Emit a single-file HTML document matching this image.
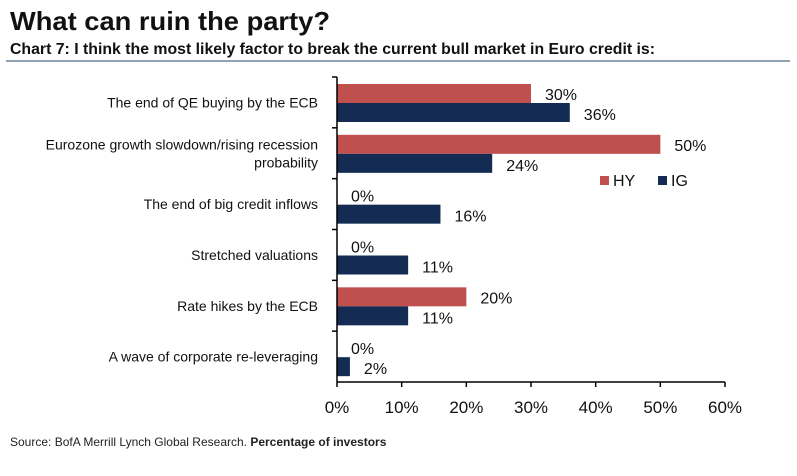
<!DOCTYPE html>
<html><head><meta charset="utf-8"><style>
body{margin:0;background:#fff;width:797px;height:471px;overflow:hidden;font-family:"Liberation Sans Narrow","Liberation Sans",sans-serif}
svg text{font-family:"Liberation Sans Narrow","Liberation Sans",sans-serif}
</style></head><body>
<svg width="797" height="471">
<text x="10" y="30" font-size="26" font-weight="bold" fill="#111" textLength="320" lengthAdjust="spacingAndGlyphs" style="font-family:'Liberation Sans',sans-serif">What can ruin the party?</text>
<text x="10" y="54" font-size="16" font-weight="bold" fill="#111" textLength="645" lengthAdjust="spacingAndGlyphs">Chart 7: I think the most likely factor to break the current bull market in Euro credit is:</text>
<line x1="6" y1="61" x2="790" y2="61" stroke="#6d8099" stroke-width="1.5"/>
<g id="plot"></g>
<rect x="600" y="176" width="9" height="9" fill="#c0504d"/>
<text x="613" y="186" font-size="16" fill="#111">HY</text>
<rect x="658" y="176" width="9" height="9" fill="#142c54"/>
<text x="671" y="186" font-size="16" fill="#111">IG</text>
<text x="10" y="446" font-size="12" fill="#222">Source: BofA Merrill Lynch Global Research. <tspan font-weight="bold">Percentage of investors</tspan></text>
</svg>
<script>
const categories=[["The end of QE buying by the ECB"],["Eurozone growth slowdown/rising recession","probability"],["The end of big credit inflows"],["Stretched valuations"],["Rate hikes by the ECB"],["A wave of corporate re-leveraging"]];
const hyValues=[30,50,0,0,20,0];
const igValues=[36,24,16,11,11,2];
const tickValues=[0,10,20,30,40,50,60];
const NS="http://www.w3.org/2000/svg";
const g=document.getElementById('plot');
const x0=337,x1=725,y0=77,y1=382,rowH=(y1-y0)/categories.length;
function xs(v){return x0+(x1-x0)*v/60;}
function mk(t,a){const e=document.createElementNS(NS,t);for(const k in a)e.setAttribute(k,a[k]);g.appendChild(e);return e;}
categories.forEach((c,i)=>{
 const top=y0+i*rowH;
 const hy=mk('rect',{x:x0,y:top+7,width:xs(hyValues[i])-x0,height:19,fill:'#c0504d'});
 
 
 const ig=mk('rect',{x:x0,y:top+26,width:xs(igValues[i])-x0,height:19,fill:'#142c54'});
 
 
 const th=mk('text',{x:xs(hyValues[i])+14,y:top+23,'font-size':16,fill:'#111'});th.textContent=hyValues[i]+'%';
 
 
 const ti=mk('text',{x:xs(igValues[i])+14,y:top+43,'font-size':16,fill:'#111'});ti.textContent=igValues[i]+'%';
 
 
 const lines=c, cy=top+rowH/2+5;
 lines.forEach((l,j)=>{
  const t=mk('text',{x:318,y:cy+(j-(lines.length-1)/2)*18,'font-size':14,'text-anchor':'end',fill:'#111'});t.textContent=l;
  
  
 });
 const tk=mk('line',{x1:x0-5,x2:x0,y1:top,y2:top,stroke:'#000','stroke-width':1.5});
 
 
});
const ya=mk('line',{x1:x0,x2:x0,y1:y0,y2:y1,stroke:'#000','stroke-width':1.5});


const xa=mk('line',{x1:x0,x2:x1,y1:y1,y2:y1,stroke:'#000','stroke-width':1.5});


tickValues.forEach(v=>{
 const l=mk('line',{x1:xs(v),x2:xs(v),y1:y1,y2:y1+5,stroke:'#000','stroke-width':1.5});
 
 
 const t=mk('text',{x:xs(v),y:413,'font-size':17,'text-anchor':'middle',fill:'#111'});t.textContent=v+'%';
 
 
});
</script>
</body></html>
